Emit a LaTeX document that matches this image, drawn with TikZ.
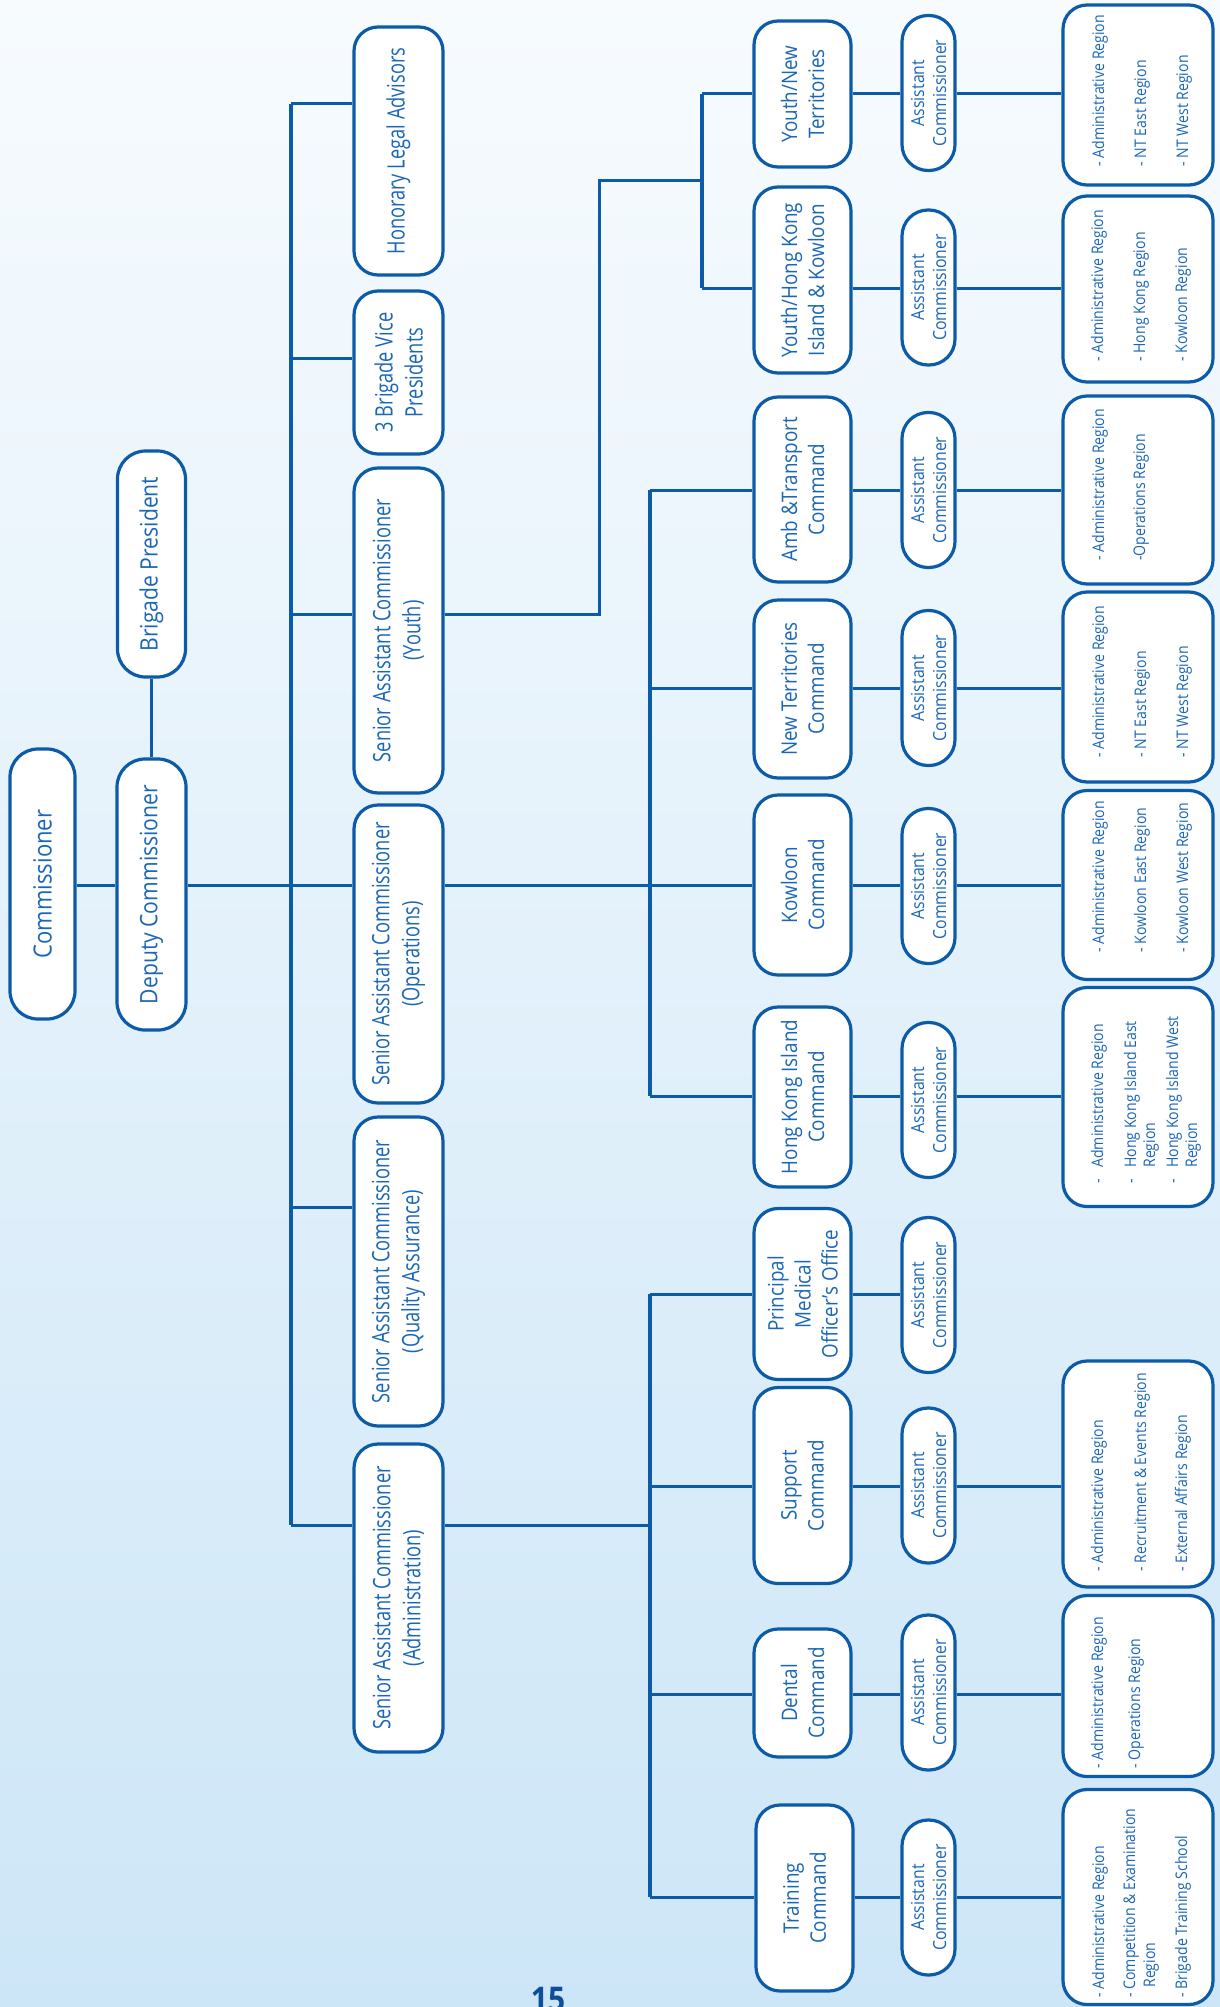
\documentclass[tikz,border=0pt]{standalone}
\usepackage{fontspec}
\setmainfont{Open Sans}[FakeStretch=0.88]
\newfontfamily\condf{Open Sans}[FakeStretch=0.76]
\definecolor{lineblue}{HTML}{0C5BA8}
\definecolor{textblue}{HTML}{1A66B8}
\definecolor{numblue}{HTML}{0D4F9A}
\definecolor{bgtop}{HTML}{F7FBFE}
\definecolor{bgmid}{HTML}{E0EFFA}
\definecolor{bgbot}{HTML}{CDE6F7}
\newcommand\myfA{\fontsize{12.5}{15}\selectfont}
\newcommand\myfB{\fontsize{12}{15}\selectfont}
\newcommand\myfS{\condf\fontsize{12}{15}\selectfont}
\newcommand\myfC{\fontsize{10.7}{13.5}\selectfont}
\newcommand\myfAC{\fontsize{9}{11}\selectfont}
\newcommand\myfR{\fontsize{8}{10}\selectfont}
\begin{document}
\begin{tikzpicture}[x=0.5pt,y=-0.5pt,
  bx/.style={draw=lineblue, line width=1.6pt, fill=white, rounded corners=12pt, inner sep=0pt},
  acbx/.style={bx, rounded corners=13pt},
  sz/.style 2 args={minimum width=#1*0.5pt, minimum height=#2*0.5pt},
  txt/.style={rotate=90, text=textblue, inner sep=0pt, align=center},
  rtxt/.style={rotate=90, anchor=base west, text=textblue, inner sep=0pt, font=\myfR},
  conn/.style={draw=lineblue, line width=1.5pt},
  trunk/.style={draw=lineblue, line width=1.9pt}]
\useasboundingbox (0,0) rectangle (1220,2007);
\shade[top color=bgtop, middle color=bgmid, bottom color=bgbot] (0,0) rectangle (1220,2007);

% top levels
\node[bx, sz={65}{270}, rounded corners=14pt] (comm) at (42.5,884) {};
\node[txt, font=\myfA] (commT) at (comm) {Commissioner};
\node[bx, sz={69}{271}, rounded corners=14pt] (dep) at (151.5,894.5) {};
\node[txt, font=\myfB] (depT) at (dep) {Deputy Commissioner};
\node[bx, sz={68}{226}, rounded corners=14pt] (bp) at (151.5,564) {};
\node[txt, font=\myfB] (bpT) at (bp) {Brigade President};

% second column
\node[bx, sz={89}{248}] (hon) at (398.5,151) {};
\node[txt, font=\myfS] (honT) at (hon) {Honorary Legal Advisors};
\node[bx, sz={89}{163}] (bvp) at (398.5,372.5) {};
\node[txt, font=\myfS] (bvpT) at (bvp) {3 Brigade Vice\\Presidents};
\node[bx, sz={89}{325}] (sacY) at (398.5,630.5) {};
\node[txt, font=\myfS] (sacYT) at (sacY) {Senior Assistant Commissioner\\(Youth)};
\node[bx, sz={89}{298}] (sacO) at (398.5,954) {};
\node[txt, font=\myfS] (sacOT) at (sacO) {Senior Assistant Commissioner\\(Operations)};
\node[bx, sz={89}{309}] (sacQ) at (398.5,1271.5) {};
\node[txt, font=\myfS] (sacQT) at (sacQ) {Senior Assistant Commissioner\\(Quality Assurance)};
\node[bx, sz={89}{308}] (sacA) at (398.5,1598) {};
\node[txt, font=\myfS] (sacAT) at (sacA) {Senior Assistant Commissioner\\(Administration)};

% commands
\node[bx, sz={97}{146}] (c1) at (802.5,94) {};
\node[txt, font=\myfC] (c1T) at (c1) {Youth/New\\Territories};
\node[bx, sz={97}{186}] (c2) at (802.5,280) {};
\node[txt, font=\myfC] (c2T) at (c2) {Youth/Hong Kong\\Island \& Kowloon};
\node[bx, sz={97}{185}] (c3) at (802.5,489.5) {};
\node[txt, font=\myfC] (c3T) at (c3) {Amb \&Transport\\Command};
\node[bx, sz={97}{178}] (c4) at (802.5,689) {};
\node[txt, font=\myfC] (c4T) at (c4) {New Territories\\Command};
\node[bx, sz={97}{180}] (c5) at (802.5,885) {};
\node[txt, font=\myfC] (c5T) at (c5) {Kowloon\\Command};
\node[bx, sz={97}{180}] (c6) at (802.5,1097) {};
\node[txt, font=\myfC] (c6T) at (c6) {Hong Kong Island\\Command};
\node[bx, sz={97}{171}] (c7) at (802.5,1294) {};
\node[txt, font=\myfC] (c7T) at (c7) {Principal\\Medical\\Officer's Office};
\node[bx, sz={97}{196}] (c8) at (802.5,1485.5) {};
\node[txt, font=\myfC] (c8T) at (c8) {Support\\Command};
\node[bx, sz={97}{128}] (c9) at (802.5,1693) {};
\node[txt, font=\myfC] (c9T) at (c9) {Dental\\Command};
\node[bx, sz={97}{186}] (c10) at (804.5,1898) {};
\node[txt, font=\myfC] (c10T) at (c10) {Training\\Command};

% assistant commissioners
\foreach \i/\yy in {1/93,2/287.5,3/490,4/688,5/886,6/1100,7/1295,8/1485.5,9/1692.5,10/1897.5}{
  \node[acbx, sz={53}{155}] (a\i) at (928.5,\yy) {};
  \node[txt, font=\myfAC] (a\i T) at (a\i) {Assistant\\Commissioner};
}

% region boxes
\node[bx, sz={150}{180}] (r1) at (1138,95) {};
\node[bx, sz={150}{186}] (r2) at (1138,289) {};
\node[bx, sz={150}{188}] (r3) at (1138,490) {};
\node[bx, sz={150}{190}] (r4) at (1138,687) {};
\node[bx, sz={150}{189}] (r5) at (1138,885) {};
\node[bx, sz={150}{219}] (r6) at (1138,1097) {};
\node[bx, sz={150}{226}] (r8) at (1138,1474) {};
\node[bx, sz={150}{181}] (r9) at (1138,1686) {};
\node[bx, sz={150}{215}] (r10) at (1138,1897) {};

% region texts
\node[rtxt] (r1a) at (1104,167) {- Administrative Region};
\node[rtxt] (r1b) at (1146,167) {- NT East Region};
\node[rtxt] (r1c) at (1188,167) {- NT West Region};
\node[rtxt] (r2a) at (1103,362) {- Administrative Region};
\node[rtxt] (r2b) at (1145,362) {- Hong Kong Region};
\node[rtxt] (r2c) at (1187,362) {- Kowloon Region};
\node[rtxt] (r3a) at (1104,561) {- Administrative Region};
\node[rtxt] (r3b) at (1145,561) {-Operations Region};
\node[rtxt] (r4a) at (1104,758) {- Administrative Region};
\node[rtxt] (r4b) at (1146,758) {- NT East Region};
\node[rtxt] (r4c) at (1188,758) {- NT West Region};
\node[rtxt] (r5a) at (1104,953) {- Administrative Region};
\node[rtxt] (r5b) at (1146,953) {- Kowloon East Region};
\node[rtxt] (r5c) at (1188,953) {- Kowloon West Region};
\node[rtxt] (r6d1) at (1103,1184) {-};
\node[rtxt] (r6a) at (1103,1168) {Administrative Region};
\node[rtxt] (r6d2) at (1136,1184) {-};
\node[rtxt] (r6b) at (1136,1168) {Hong Kong Island East};
\node[rtxt] (r6b2) at (1155,1168) {Region};
\node[rtxt] (r6d3) at (1178,1184) {-};
\node[rtxt] (r6c) at (1178,1168) {Hong Kong Island West};
\node[rtxt] (r6c2) at (1197,1168) {Region};
\node[rtxt] (r8a) at (1103,1572) {- Administrative Region};
\node[rtxt] (r8b) at (1146,1572) {- Recruitment \& Events Region};
\node[rtxt] (r8c) at (1187,1572) {- External Affairs Region};
\node[rtxt] (r9a) at (1103,1769) {- Administrative Region};
\node[rtxt] (r9b) at (1140,1769) {- Operations Region};
\node[rtxt] (r10a) at (1104,1998) {- Administrative Region};
\node[rtxt] (r10b) at (1135,1998) {- Competition \& Examination};
\node[rtxt] (r10b2) at (1155,1988) {Region};
\node[rtxt] (r10c) at (1187,1998) {- Brigade Training School};

% page number
\node[anchor=north, inner sep=0pt, text=numblue, font=\fontsize{17}{17}\selectfont\bfseries] (pnum) at (548,1987) {15};

% branch coordinates
\coordinate (tH) at (291,104);
\coordinate (tV) at (291,358);
\coordinate (tY) at (291,614);
\coordinate (tO) at (291,885);
\coordinate (tQ) at (291,1207);
\coordinate (tA) at (291,1525);
\coordinate (yk1) at (599,614);
\coordinate (yk2) at (599,180);
\coordinate (yT) at (702,180);
\coordinate (b1) at (702,94);
\coordinate (b2) at (702,288);
\coordinate (b3) at (650,490);
\coordinate (b4) at (650,688);
\coordinate (b5) at (650,885);
\coordinate (b6) at (650,1096);
\coordinate (b7) at (650,1294);
\coordinate (b8) at (650,1486);
\coordinate (b9) at (650,1694);
\coordinate (b10) at (650,1897);
\coordinate (aJ) at (650,1525);

% connectors
\draw[conn] (comm.east |- tO) -- (dep.west |- tO);
\draw[conn] (bp.south) -- (bp.south |- dep.north);
\draw[conn] (dep.east |- tO) -- (tO);
\draw[trunk] (tH) -- (tA);
\foreach \t/\n in {tH/hon,tV/bvp,tY/sacY,tO/sacO,tQ/sacQ,tA/sacA}{
  \draw[conn] (\t) -- (\n.west |- \t);
}
\draw[conn] (sacY.east |- yk1) -- (yk1) -- (yk2) -- (yT);
\draw[trunk] (b1) -- (b2);
\draw[conn] (sacO.east |- b5) -- (b5);
\draw[trunk] (b3) -- (b6);
\draw[conn] (sacA.east |- aJ) -- (aJ);
\draw[trunk] (b7) -- (b10);
\foreach \i in {1,...,10}{
  \draw[conn] (b\i) -- (c\i.west |- b\i);
  \draw[conn] (c\i.east |- b\i) -- (a\i.west |- b\i);
}
\foreach \i in {1,2,3,4,5,6,8,9,10}{
  \draw[conn] (a\i.east |- b\i) -- (r\i.west |- b\i);
}
\end{tikzpicture}
\end{document}
